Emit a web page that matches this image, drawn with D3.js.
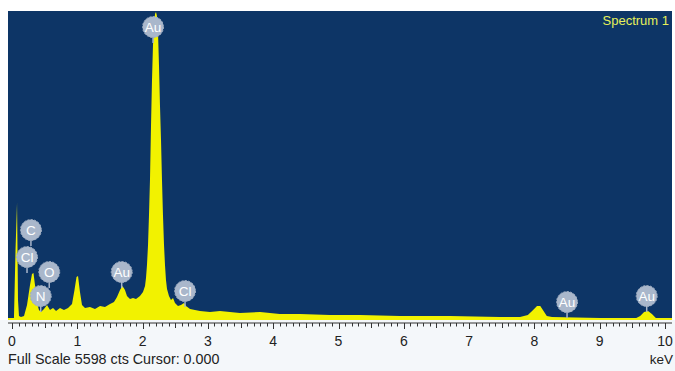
<!DOCTYPE html>
<html><head><meta charset="utf-8">
<script src="https://cdn.jsdelivr.net/npm/d3@7"></script>
<style>html,body{margin:0;padding:0;background:#fff;}svg{display:block;}</style>
</head><body>
<svg id="chart" width="675" height="371"></svg>
<script>
// Spectrum data (energy in keV, counts)
const energy = [0,0.03,0.054,0.077,0.092,0.107,0.138,0.184,0.23,0.276,0.306,0.329,0.352,0.383,0.413,0.444,0.49,0.536,0.582,0.628,0.674,0.735,0.796,0.858,0.919,0.957,0.988,1.011,1.041,1.072,1.118,1.194,1.271,1.348,1.424,1.501,1.562,1.608,1.654,1.692,1.73,1.761,1.807,1.853,1.899,1.96,2.006,2.037,2.052,2.067,2.083,2.098,2.113,2.129,2.144,2.159,2.174,2.19,2.205,2.22,2.236,2.251,2.266,2.282,2.297,2.312,2.328,2.343,2.358,2.374,2.404,2.435,2.466,2.496,2.542,2.588,2.634,2.665,2.726,2.802,2.879,3.032,3.185,3.49,3.8,4.1,4.41,4.87,5.33,5.94,6.71,7.47,7.78,7.9,7.98,8.04,8.09,8.13,8.19,8.27,9.01,9.56,9.62,9.68,9.74,9.8,9.86,10.1];
const counts = [0,36,1268,2120,362,72,54,72,272,634,833,851,634,308,181,145,199,272,181,217,163,217,181,217,290,544,779,797,507,272,217,235,199,254,235,290,326,417,544,616,544,435,380,399,380,435,507,616,761,996,1359,1902,2536,3533,4348,4982,5345,5544,5580,5508,5218,4620,3895,3261,2536,1902,1359,996,725,562,435,362,399,308,254,272,308,254,199,181,163,145,163,127,145,109,109,91,91,72,72,54,54,91,181,254,254,181,72,54,36,36,72,145,163,109,36,18];
const fullScale = 5598;
const xTicks = [0,1,2,3,4,5,6,7,8,9,10];
// Peak labels
const labelNames = ["C","Cl","O","N","Au","Au","Cl","Au","Au"];
const labelEnergy = [0.29,0.23,0.57,0.44,2.16,1.68,2.65,8.5,9.72];
const labelCounts = [1630,1141,870,435,5308,870,525,326,435];
const titleText = "Spectrum 1";
const footerText = "Full Scale 5598 cts Cursor: 0.000";
const unitText = "keV";

const svg = d3.select("#chart");
const plot = {l:8, r:672, t:11, b:320};
const x = d3.scaleLinear().domain([0,10]).range([12,665]);
const y = d3.scaleLinear().domain([0,fullScale]).range([plot.b, plot.t]);

svg.append("rect").attr("x",0).attr("y",plot.b).attr("width",675).attr("height",371-plot.b).attr("fill","#f4f7fa");
svg.append("rect").attr("x",plot.l).attr("y",plot.t).attr("width",plot.r-plot.l).attr("height",plot.b-plot.t).attr("fill","#0d3566");

const pts = energy.map((e,i)=>[e,counts[i]]);
const area = d3.area().x(d=>x(d[0])).y0(plot.b).y1(d=>y(d[1])).curve(d3.curveLinear);
svg.append("path").datum(pts).attr("d",area).attr("fill","#f2f200");
svg.append("rect").attr("x",plot.l).attr("y",plot.b-2).attr("width",plot.r-plot.l).attr("height",2).attr("fill","#f2f200");

svg.append("text").attr("x",669).attr("y",25).attr("text-anchor","end")
  .attr("font-family","Liberation Sans, Arial, sans-serif").attr("font-size",13)
  .attr("fill","#e6f05a").text(titleText);

const lab = svg.append("g");
labelNames.forEach((n,i)=>{
  const cx = x(labelEnergy[i]), cy = y(labelCounts[i]);
  lab.append("line").attr("x1",cx).attr("x2",cx).attr("y1",cy).attr("y2",cy+16)
    .attr("stroke","#a8b6ca").attr("stroke-width",1.5);
});
labelNames.forEach((n,i)=>{
  const cx = x(labelEnergy[i]), cy = y(labelCounts[i]);
  lab.append("circle").attr("cx",cx).attr("cy",cy).attr("r",10.5).attr("fill","#a9b7cb")
    .attr("stroke","#9dabbf").attr("stroke-width",1).attr("stroke-dasharray","2,1.5");
  lab.append("text").attr("x",cx).attr("y",cy+4.7).attr("text-anchor","middle")
    .attr("font-family","Liberation Sans, Arial, sans-serif").attr("font-size",13.5)
    .attr("fill","#ffffff").text(n);
});

const ax = svg.append("g");
ax.append("line").attr("x1",plot.l).attr("x2",plot.r).attr("y1",323).attr("y2",323).attr("stroke","#333").attr("stroke-width",1);
const minor = d3.range(0,101).map(i=>i/10);
minor.forEach(v=>{
  const k = Math.round(v*10);
  const len = (k%10===0)?6:(k%5===0?5:3.5);
  ax.append("line").attr("x1",Math.round(x(v))+0.5).attr("x2",Math.round(x(v))+0.5)
    .attr("y1",323).attr("y2",323+len).attr("stroke","#333").attr("stroke-width",1);
});
xTicks.forEach(t=>{
  ax.append("text").attr("x",x(t)).attr("y",346).attr("text-anchor","middle")
    .attr("font-family","Liberation Sans, Arial, sans-serif").attr("font-size",14)
    .attr("fill","#222").text(t);
});
svg.append("text").attr("x",8).attr("y",364).attr("font-family","Liberation Sans, Arial, sans-serif")
  .attr("font-size",14.3).attr("fill","#222").text(footerText);
svg.append("text").attr("x",673).attr("y",364).attr("text-anchor","end").attr("font-family","Liberation Sans, Arial, sans-serif")
  .attr("font-size",13.5).attr("fill","#222").text(unitText);
</script>
</body></html>
